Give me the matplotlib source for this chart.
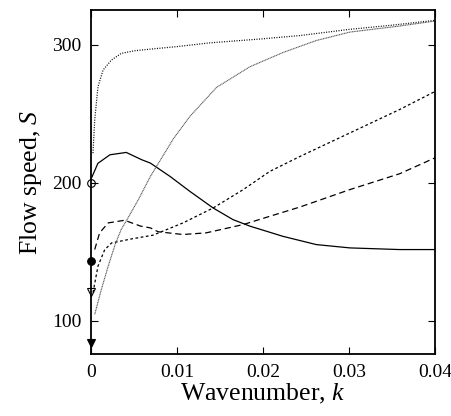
import numpy as np
import matplotlib.pyplot as plt

plt.rcParams['font.family'] = ['Liberation Serif', 'DejaVu Serif']
plt.rcParams['mathtext.fontset'] = 'custom'
plt.rcParams['mathtext.it'] = 'Liberation Serif:italic'
plt.rcParams['mathtext.rm'] = 'Liberation Serif'

# curves: wavenumber k, flow speed S
k_top = [0.00023, 0.00043, 0.00081, 0.0014, 0.00236, 0.00352, 0.00508, 0.00663,
         0.01, 0.0138, 0.0197, 0.0243, 0.0301, 0.035, 0.04]
s_top = [221.4, 245.5, 269.5, 281.5, 288.7, 293.6, 295.5, 296.5,
         298.5, 301.2, 304, 306.5, 311, 314, 317.5]

k_sol = [0.0001, 0.0008, 0.0022, 0.0041, 0.0059, 0.0069, 0.0092, 0.0115, 0.0142,
         0.0165, 0.0185, 0.0208, 0.0223, 0.0262, 0.0301, 0.0359, 0.04]
s_sol = [204, 214, 220.2, 221.9, 216.6, 214.2, 204.5, 193.7, 181.7,
         173.3, 168.5, 164.1, 161.2, 155.2, 152.8, 151.6, 151.6]

k_long = [0.00043, 0.001, 0.002, 0.0039, 0.0058, 0.0069, 0.0078, 0.0107, 0.0134,
          0.0177, 0.0208, 0.0243, 0.0301, 0.0359, 0.04]
s_long = [151.6, 163.7, 170.9, 172.8, 168.5, 167.3, 164.5, 162.5, 163.7,
          169.7, 175.7, 182.4, 195, 206.5, 218]

k_short = [0.00023, 0.00081, 0.0016, 0.0024, 0.0047, 0.0072, 0.0107, 0.0142,
           0.0177, 0.0208, 0.0243, 0.0301, 0.0359, 0.04]
s_short = [120.4, 139.6, 151.6, 156.4, 159.3, 162, 170.9, 181.7,
           195, 208.2, 219, 236, 253, 266]

k_grey = [0.00043, 0.0012, 0.002, 0.0028, 0.0035, 0.0043, 0.0055, 0.0069, 0.0096,
          0.0115, 0.0146, 0.0185, 0.0224, 0.0262, 0.0301, 0.0359, 0.04]
s_grey = [104.7, 122.7, 139.6, 155.2, 166, 174.5, 187.7, 204.5, 232,
          248, 269, 284, 294.4, 302.9, 309, 313.4, 317]

# end markers on k = 0
mark_s = [200, 143, 121, 84]
mark_m = ['o', 'o', 'v', 'v']
mark_fill = ['none', 'black', 'none', 'black']

fig = plt.figure(figsize=(4.51, 4.16), dpi=100)
ax = fig.add_axes([0.2018, 0.149, 0.7627, 0.827])

ax.plot(k_top, s_top, color='black', lw=0.9, ls=(0, (0.8, 1.2)))
ax.plot(k_sol, s_sol, color='black', lw=0.9, ls='-')
ax.plot(k_long, s_long, color='black', lw=0.9, ls=(0, (5, 3)))
ax.plot(k_short, s_short, color='black', lw=0.9, ls=(0, (2.2, 2)))
ax.plot(k_grey, s_grey, color='#555555', lw=0.8, ls=(0, (1, 0.5)))

for s, m, fc in zip(mark_s, mark_m, mark_fill):
    ax.plot([0], [s], marker=m, ms=5.5, mfc=fc, mec='black', mew=0.8,
            color='black', clip_on=False, zorder=5)

ax.set_xlim(0, 0.04)
ax.set_ylim(76, 325)
ax.set_xticks([0, 0.01, 0.02, 0.03, 0.04])
ax.set_xticklabels(['0', '0.01', '0.02', '0.03', '0.04'])
ax.set_yticks([100, 200, 300])
ax.tick_params(direction='in', length=5, width=0.8, top=True, right=True,
               labelsize=14, pad=7)
for sp in ax.spines.values():
    sp.set_linewidth(1.3)

ax.set_xlabel('Wavenumber, $k$', fontsize=18.5, labelpad=1)
ax.set_ylabel('Flow speed, $S$', fontsize=18.5, labelpad=6)

fig.savefig('out.png', dpi=100)
